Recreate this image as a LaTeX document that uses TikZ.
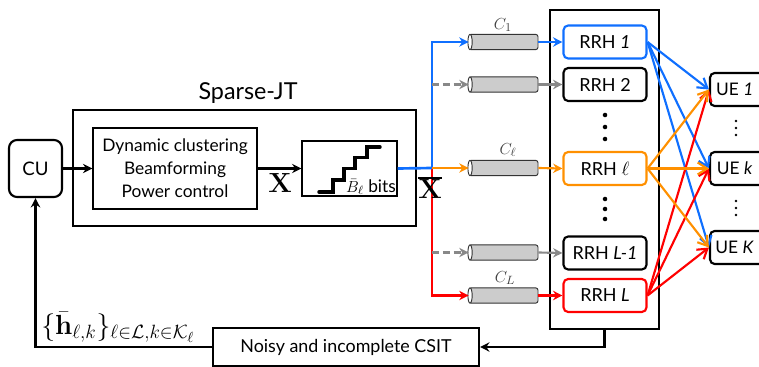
\documentclass[tikz,border=0pt]{standalone}
\usepackage[no-math]{fontspec}
\setmainfont{Lato}
\usetikzlibrary{arrows.meta}
\definecolor{cblue}{HTML}{0F6FFF}
\definecolor{corange}{HTML}{FF9000}
\definecolor{cred}{HTML}{FF0000}
\definecolor{cgray}{HTML}{888888}
\definecolor{cfill}{HTML}{CCCCCC}
\tikzset{
  rrh/.style={draw=#1,line width=1.6pt,rounded corners=3.5pt,minimum width=62.25pt,minimum height=24.75pt,inner sep=0pt,font=\fontsize{13.5}{15}\selectfont},
  rrh/.default=black,
  ue/.style={draw=black,line width=1.6pt,rounded corners=3.5pt,minimum width=45pt,minimum height=24.75pt,inner sep=0pt,font=\fontsize{13}{15}\selectfont},
  plainbox/.style={draw=black,inner sep=0pt},
  cable/.style={rectangle,rounded corners=1.8pt,draw=black!80,line width=.7pt,fill=cfill,minimum width=51.75pt,minimum height=11.5pt,inner sep=0pt},
  cablecap/.style={draw=black!80,line width=.7pt,fill=white},
  wire/.style={line width=1.9pt,-{Stealth[length=7pt,width=7pt]}},
  thinwire/.style={line width=1.6pt,-{Stealth[length=7pt,width=7pt]}},
  dashwire/.style={thinwire,cgray,dash pattern=on 5.5pt off 2.6pt},
  link/.style={line width=1.6pt,-{Straight Barb[length=7pt,width=9pt]}},
  dotmark/.style={circle,fill=black,minimum size=3.4pt,inner sep=0pt},
  smalldot/.style={circle,fill=black,minimum size=1.9pt,inner sep=0pt},
  caplabel/.style={inner sep=0pt,text=black!75,font=\fontsize{13}{15}\selectfont},
}
\begin{document}
\begin{tikzpicture}[x=.75pt,y=-.75pt]
\useasboundingbox (0,0) rectangle (759,367);
% boxes
\node[draw=black,line width=1.6pt,rounded corners=6pt,minimum width=39.75pt,minimum height=42.75pt,inner sep=0pt,font=\fontsize{14}{16}\selectfont] (cu) at (35.5,168.5) {CU};
\node[draw=black,line width=1.6pt,minimum width=257.25pt,minimum height=87pt,inner sep=0pt] (jt) at (244.5,168) {};
\node[inner sep=0pt,font=\fontsize{17.5}{20}\selectfont] (jttitle) at (248,93) {Sparse-JT};
\node[plainbox,line width=1pt,minimum width=123pt,minimum height=60.75pt,align=center,font=\fontsize{13}{17.2}\selectfont] (proc) at (175,168.5) {Dynamic clustering\\Beamforming\\Power control};
\node[plainbox,line width=.9pt,minimum width=71.25pt,minimum height=41.25pt] (quant) at (349.5,168.5) {};
\draw[line width=2.6pt,line cap=round] (319,192) -| (333,180) -| (344,168.5) -| (355,157.5) -| (367,147) -- (380,147);
\node[draw=none,inner sep=0pt,font=\fontsize{13}{15}\selectfont] (bits) at (371,187) {$\bar B_\ell$ bits};
\node[draw=black,line width=1.6pt,minimum width=81.75pt,minimum height=239.25pt,inner sep=0pt] (rrhbox) at (604.5,169.5) {};
% cables
\node[cable] (c1) at (503.5,42) {};
\node[cable] (c2) at (503.5,84.5) {};
\node[cable] (c3) at (503.5,168) {};
\node[cable] (c4) at (503.5,252.5) {};
\node[cable] (c5) at (503.5,295.5) {};
\foreach \c in {c1,c2,c3,c4,c5}{\draw[cablecap] (\c.west) ++(1.5,0) ellipse [x radius=1.6pt,y radius=5.75pt];}
\node[caplabel] (l1) at (503,25) {$C_1$};
\node[caplabel] (l3) at (508,150) {$C_\ell$};
\node[caplabel] (l5) at (505,278) {$C_L$};
% RRH
\node[rrh=cblue] (r1) at (605,42) {RRH \textit{1}};
\node[rrh] (r2) at (605,84.5) {RRH 2};
\node[rrh=corange] (r3) at (605,168.5) {RRH $\ell$};
\node[rrh] (r4) at (605,253) {RRH \textit{L-1}};
\node[rrh=cred] (r5) at (605,295.5) {RRH \textit{L}};
\foreach \n/\y in {a/115,b/127,c/139,d/199,e/209,f/219}{\node[dotmark] (dot\n) at (605,\y) {};}
% UE
\node[ue] (u1) at (740,89.5) {\hspace{-8pt}UE \textit{1}};
\node[ue] (u2) at (740,168.5) {\hspace{-8pt}UE \textit{k}};
\node[ue] (u3) at (740,247.5) {\hspace{-8pt}UE \textit{K}};
\foreach \n/\y in {a/121,b/128,c/135,d/201,e/208,f/215}{\node[smalldot] (udot\n) at (736,\y) {};}
\node[draw=black,line width=1.6pt,minimum width=199.5pt,minimum height=28.5pt,inner sep=0pt,font=\fontsize{13.4}{15}\selectfont] (csit) at (346,347) {Noisy and incomplete CSIT};
\node[inner sep=0pt,anchor=west,font=\fontsize{21}{24}\selectfont] (hlab) at (41,327) {$\{\bar{\mathbf{h}}_{\ell,k}\}_{\ell\in\mathcal{L},k\in\mathcal{K}_\ell}$};
% bus
\coordinate (bus) at (432,168);
\coordinate (busa) at (432,42);
\coordinate (busb) at (432,84.5);
\coordinate (busc) at (432,252.5);
\coordinate (busd) at (432,295.5);
\draw[thinwire,cred] (bus) -- (busd) -- (c5.west);
\draw[thinwire,cblue] (bus) -- (busa) -- (c1.west);
\draw[line width=2pt,cblue] (quant.east) -- (bus);
\draw[thinwire,corange] (bus) -- (c3.west);
\draw[dashwire] (busb) -- (c2.west);
\draw[dashwire] (busc) -- (c4.west);
\node[inner sep=0pt,font=\fontsize{21}{24}\selectfont] (xl) at (280,183) {$\mathbf{X}$};
\node[inner sep=0pt,font=\fontsize{21}{24}\selectfont] (xb) at (430,188) {$\overline{\mathbf{X}}$};
\draw[line width=1.3pt] ([yshift=-1pt]xb.north west) -- ([yshift=-1pt]xb.north east);
% black flow
\draw[wire] (cu.east) -- (proc.west);
\draw[wire] (proc.east) -- (quant.west);
\draw[wire] (rrhbox.south) |- (csit.east);
\draw[wire] (csit.west) -| (cu.south);
% cable to RRH
\draw[thinwire,cblue] (c1.east) -- (r1.west);
\draw[thinwire,cgray] (c2.east) -- (r2.west);
\draw[thinwire,corange] (c3.east) -- (r3.west);
\draw[thinwire,cgray] (c4.east) -- (r4.west);
\draw[thinwire,cred] (c5.east) -- (r5.west);
% RRH to UE
\draw[link,cblue] (r1.east) -- (u1.west);
\draw[link,cblue] (r1.east) -- (u2.west);
\draw[link,cblue] (r1.east) -- (u3.west);
\draw[link,cred] (r5.east) -- (u1.west);
\draw[link,cred] (r5.east) -- (u2.west);
\draw[link,cred] (r5.east) -- (u3.west);
\draw[link,corange] (r3.east) -- (u1.west);
\draw[link,corange] (r3.east) -- (u2.west);
\draw[link,corange] (r3.east) -- (u3.west);
\end{tikzpicture}
\end{document}
